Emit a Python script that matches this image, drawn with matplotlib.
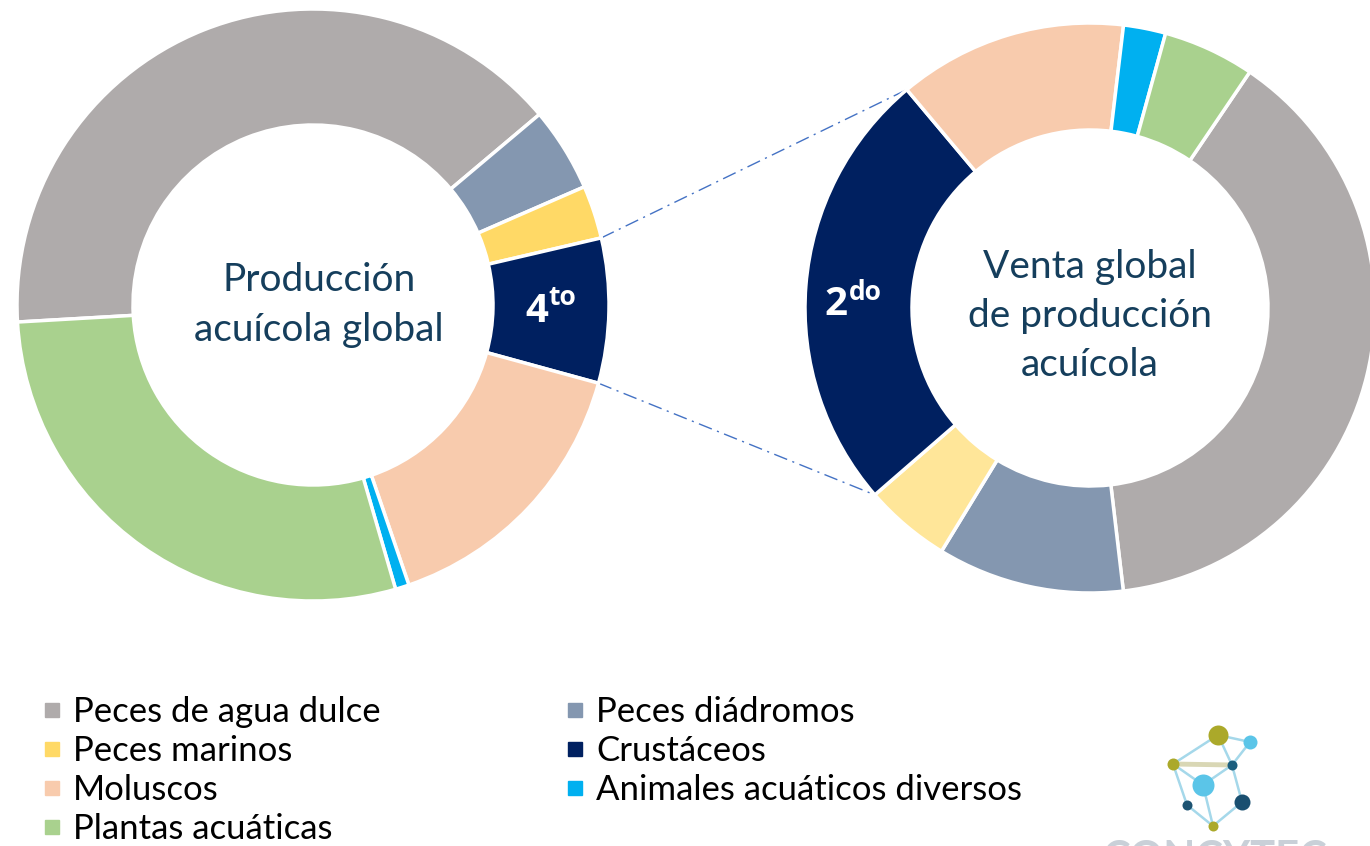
import matplotlib
matplotlib.use("Agg")
import matplotlib.pyplot as plt
from matplotlib.lines import Line2D
import numpy as np

plt.rcParams["font.family"] = ["Lato", "DejaVu Sans"]

# categorías (orden de las porciones, sentido horario)
categorias = ["Peces de agua dulce", "Peces diádromos", "Peces marinos", "Crustáceos",
              "Moluscos", "Animales acuáticos diversos", "Plantas acuáticas"]
# % de la producción acuícola global
produccion = [39.8, 4.6, 2.9, 7.9, 15.5, 0.75, 28.6]
# % de la venta global de producción acuícola
venta = [38.7, 10.6, 4.9, 25.3, 13.0, 2.4, 5.2]

colores_prod = ["#AFABAB", "#8497B0", "#FFD966", "#002060", "#F8CBAD", "#00B0F0", "#A9D18E"]
colores_venta = ["#AFABAB", "#8497B0", "#FFE699", "#002060", "#F8CBAD", "#00B0F0", "#A9D18E"]

TEXT_COLOR = "#153E5C"
W, H = 1370, 846

fig = plt.figure(figsize=(13.7, 8.46), dpi=100)
ax = fig.add_axes([0, 0, 1, 1])

wl, _ = ax.pie(produccion, colors=colores_prod, startangle=183.3, counterclock=False,
               center=(313, H - 305), radius=296,
               wedgeprops=dict(width=116, edgecolor="white", linewidth=2.5))
wr, _ = ax.pie(venta, colors=colores_venta, startangle=55.9, counterclock=False,
               center=(1090, H - 308), radius=285,
               wedgeprops=dict(width=107, edgecolor="white", linewidth=2.5))

ax.set_xlim(0, W)
ax.set_ylim(0, H)
ax.set_aspect("equal")
ax.axis("off")


def punto(w, ang):
    cx, cy = w.center
    a = np.deg2rad(ang)
    return cx + w.r * np.cos(a), cy + w.r * np.sin(a)


# líneas de conexión entre las porciones de crustáceos
izq, der = wl[3], wr[3]
for a1, a2 in [(izq.theta2, der.theta1), (izq.theta1, der.theta2)]:
    x1, y1 = punto(izq, a1)
    x2, y2 = punto(der, a2)
    ax.plot([x1, x2], [y1, y2], color="#4472C4", linewidth=1.0,
            dashes=(10, 4, 1.5, 4), zorder=0)

# textos centrales
cxl, cyl = izq.center
ax.text(cxl + 6, cyl, "Producción\nacuícola global", ha="center", va="center",
        fontsize=28, color=TEXT_COLOR, linespacing=1.45)
cxr, cyr = der.center
ax.text(cxr, cyr - 8, "Venta global\nde producción\nacuícola", ha="center", va="center",
        fontsize=28, color=TEXT_COLOR, linespacing=1.45)


def etiqueta(w, num, sup, dxn, dyn, dxs, dys):
    mid = np.deg2rad((w.theta1 + w.theta2) / 2)
    rm = w.r - w.width / 2
    cx, cy = w.center
    x, y = cx + rm * np.cos(mid), cy + rm * np.sin(mid)
    ax.text(x + dxn, y + dyn, num, ha="right", va="baseline", fontsize=29,
            fontweight="bold", color="white", family="Open Sans")
    ax.text(x + dxs, y + dys, sup, ha="left", va="baseline", fontsize=19,
            fontweight="bold", color="white", family="Open Sans")


etiqueta(izq, "4", "to", -3, -12, -3, 5)
etiqueta(der, "2", "do", -12, -25, -10, -10)

# leyenda
orden = [0, 2, 4, 6, 1, 3, 5]
handles = [Line2D([], [], marker="s", linestyle="none", markersize=10,
                  color=colores_prod[i]) for i in orden]
labels = [categorias[i] for i in orden]
ax.legend(handles, labels, ncol=2, frameon=False, fontsize=25,
          loc="upper left", bbox_to_anchor=(40 / W, 1 - 696 / H),
          handlelength=0.7, handletextpad=0.25, columnspacing=5.25,
          labelspacing=0.2, borderaxespad=0, borderpad=0)

# logo
nodos = {"A": (1218, 735, 10, "#ABA92A"), "B": (1250, 742, 7, "#5BC5E8"),
         "C": (1173, 764, 6, "#ABA92A"), "D": (1232, 765, 5, "#1B5E7E"),
         "E": (1203, 785, 11, "#5BC5E8"), "F": (1187, 805, 5, "#1D5372"),
         "G": (1242, 802, 8, "#1A4F70"), "K": (1213, 826, 5, "#ABA92A")}
aristas = ["AB", "AC", "AD", "BD", "CE", "CF", "ED", "EK", "FK", "DG", "GK"]
for a, b in aristas:
    xa, ya = nodos[a][:2]
    xb, yb = nodos[b][:2]
    ax.plot([xa, xb], [H - ya, H - yb], color="#A5D8EA", linewidth=1.8, zorder=4)
xa, ya = nodos["C"][:2]
xb, yb = nodos["D"][:2]
ax.plot([xa, xb], [H - ya, H - yb], color="#D9D7B5", linewidth=3.5, zorder=4)
for x, y, r, c in nodos.values():
    ax.scatter([x], [H - y], s=(2 * r * 0.72) ** 2, color=c, zorder=5, linewidths=0)
ax.text(1215, H - 840, "CONCYTEC", ha="center", va="top", fontsize=30,
        fontweight="bold", color="#C9D0D8")

fig.savefig("out.png", dpi=100, facecolor="white")
